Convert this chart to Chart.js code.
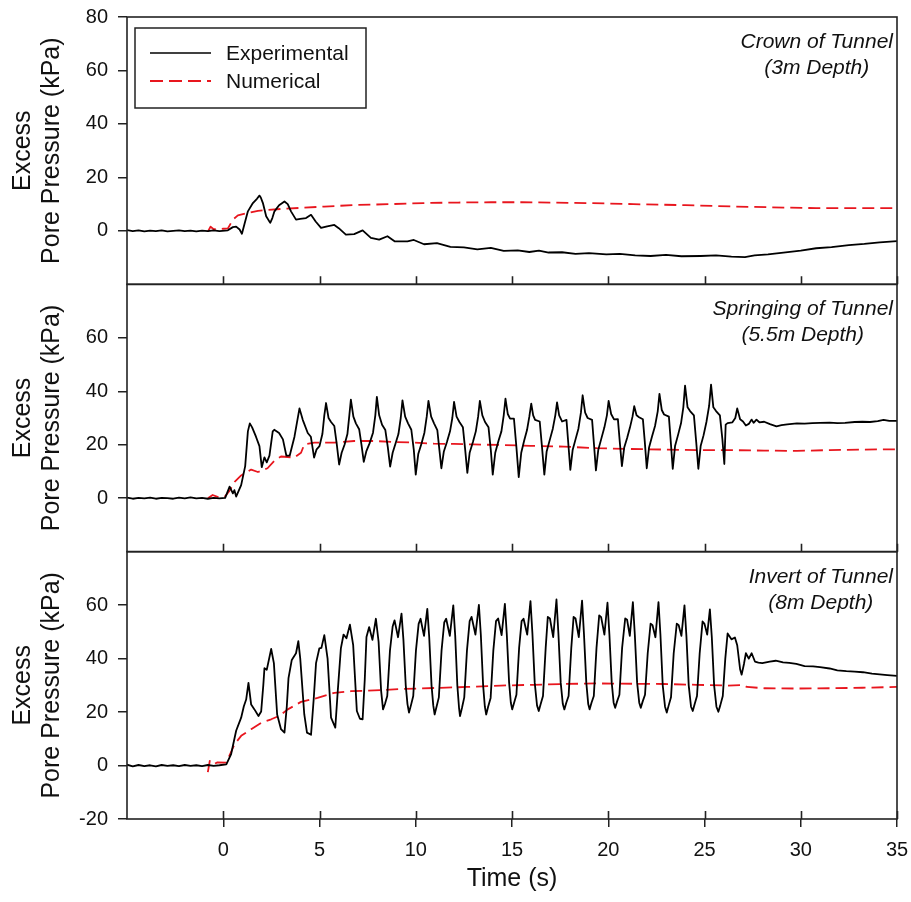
<!DOCTYPE html>
<html><head><meta charset="utf-8">
<script src="https://cdn.jsdelivr.net/npm/chart.js@4.4.1/dist/chart.umd.min.js"></script>
<style>html,body{margin:0;padding:0;background:#fff}#wrap{width:911px;height:902px;position:relative}canvas{display:block}</style>
</head><body><div id="wrap"><canvas id="c" width="911" height="902"></canvas></div>
<script>
// ---------- DATA (time s, excess pore pressure kPa) ----------
const xTickValues = [0, 5, 10, 15, 20, 25, 30, 35];
const panelNotes = [['Crown of Tunnel', '(3m Depth)'], ['Springing of Tunnel', '(5.5m Depth)'], ['Invert of Tunnel', '(8m Depth)']];
const seriesNames = ['Experimental', 'Numerical'];

const crownExperimental = [[-5,0.3],[-4.7,-0.1],[-4.4,0.2],[-4.1,-0.2],[-3.8,0.1],[-3.5,-0.1],[-3.2,0.2],[-2.9,-0.2],[-2.6,0.0],[-2.3,0.2],[-2.0,-0.1],[-1.7,0.1],[-1.4,-0.2],[-1.1,0.1],[-0.8,-0.1],[-0.5,0.2],[-0.2,-0.1],[0.1,0.1],[0.24,0.2],
[0.5,1.4],[0.67,1.6],[0.85,0.5],[0.97,-1.1],[1.1,2.5],[1.28,7.3],[1.54,10.4],[1.75,12.0],[1.88,13.2],[1.95,12.5],[2.06,10.4],[2.23,5.5],[2.44,3.0],[2.55,4.8],[2.66,7.3],[2.9,9.6],[3.18,11.0],[3.35,10.0],[3.52,7.3],[3.78,4.2],[4.0,4.5],[4.3,4.8],[4.56,6.0],[4.8,3.5],[5.08,1.1],[5.4,1.7],[5.77,2.2],[6.0,1.0],[6.37,-1.4],[6.8,-1.2],[7.24,0.2],[7.67,-2.6],[8.1,-3.3],[8.53,-2.0],[8.9,-3.9],[9.57,-3.9],[9.9,-3.4],[10.43,-5.0],[11.1,-4.6],[11.8,-6.0],[12.5,-6.2],[13.2,-6.9],[13.9,-6.4],[14.57,-7.5],[15.3,-7.3],[15.9,-7.9],[16.4,-7.4],[16.9,-8.1],[17.6,-8.0],[18.3,-8.6],[19.0,-8.3],[19.9,-8.8],[20.6,-8.6],[21.4,-9.2],[22.2,-9.4],[23.0,-9.0],[23.8,-9.5],[24.8,-9.4],[25.6,-9.2],[26.4,-9.6],[27.1,-9.8],[27.6,-9.2],[28.3,-8.8],[29.1,-8.1],[30.0,-7.4],[30.8,-6.5],[31.6,-6.1],[32.5,-5.3],[33.3,-4.9],[34.1,-4.3],[35,-3.8]];

const crownNumerical = [[-0.8,-0.3],[-0.66,1.6],[-0.5,0.6],[0.0,0.8],[0.24,0.9],[0.5,4.2],[0.76,5.8],[1.28,6.7],[1.8,7.5],[2.32,7.8],[3.18,8.3],[4.04,8.6],[5.25,9.1],[6.98,9.7],[8.7,10.0],[10.4,10.4],[12.2,10.6],[13.9,10.7],[15.5,10.7],[17.0,10.6],[19.0,10.4],[21.3,10.0],[24.0,9.6],[26.5,9.1],[28.5,8.8],[30.8,8.5],[33.0,8.5],[35,8.5]];

const springingExperimental = [[-5,0.2],[-4.7,-0.2],[-4.4,0.1],[-4.1,-0.1],[-3.8,0.2],[-3.5,-0.2],[-3.2,0.1],[-2.9,0],[-2.6,-0.2],[-2.3,0.2],[-2.0,-0.1],[-1.7,0.3],[-1.4,-0.1],[-1.1,0.1],[-0.8,-0.2],[-0.5,0.1],[-0.2,-0.1],[0.1,0.1],
[0.33,4.3],[0.5,1.8],[0.58,3],[0.67,0.6],[0.93,4.9],[1.14,12],[1.28,25],[1.38,28],[1.5,26.5],[1.7,23],[1.88,19.5],[2.0,11.6],[2.14,15.3],[2.26,13.4],[2.4,15.9],[2.57,25],[2.65,25.6],[2.9,24.4],[3.1,22],[3.28,15.9],[3.45,15.9],[3.7,23],[3.96,33.6],[4.13,29.3],[4.39,24.4],[4.55,23],[4.72,15.2],
[4.85,18.3],[5.0,19.5],[5.15,24],[5.25,31],[5.34,35.6],[5.47,30],[5.6,28.5],[5.77,27],[5.9,20],[6.02,12.6],
[6.15,17],[6.3,20],[6.45,24],[6.55,31],[6.63,36.9],[6.76,30.5],[6.89,28],[7.06,25.8],[7.18,20],[7.3,13.6],
[7.43,17.5],[7.6,20.5],[7.78,24.5],[7.9,31],[7.98,37.9],[8.1,31],[8.25,27.5],[8.42,25.5],[8.55,19],[8.67,11.8],
[8.8,17],[8.95,20.5],[9.1,24],[9.22,30],[9.31,36.6],[9.45,30.5],[9.6,28],[9.77,25.6],[9.9,18],[10.0,8.8],
[10.13,16.5],[10.3,20.5],[10.45,24.5],[10.57,30.5],[10.66,36.4],[10.8,30.5],[10.95,28],[11.12,25.5],[11.23,18],[11.33,11.2],
[11.46,17.5],[11.62,21],[11.78,25],[11.9,30],[11.99,36],[12.12,30.5],[12.27,28.5],[12.45,26.5],[12.57,18],[12.68,9.5],
[12.8,17],[12.97,21],[13.12,25],[13.24,30.5],[13.33,36.4],[13.46,31],[13.6,28.5],[13.78,26.5],[13.9,18],[14.0,8.8],
[14.13,17],[14.3,21.5],[14.45,25],[14.57,31],[14.66,37.2],[14.78,31.5],[14.9,29.8],[15.1,29.8],[15.23,19],[15.35,7.9],
[15.48,17],[15.63,21.5],[15.78,25.5],[15.9,30.5],[16.0,35.4],[16.1,31],[16.2,29.3],[16.44,28.7],[16.56,19],[16.68,8.8],
[16.8,17.5],[16.97,22],[17.12,26],[17.25,31],[17.34,35.8],[17.45,31],[17.6,28.7],[17.83,29.3],[17.93,20],[18.03,10.6],
[18.15,18],[18.3,22],[18.45,26],[18.58,32],[18.67,38.5],[18.8,32],[18.93,30],[19.16,29.3],[19.26,20],[19.36,10.4],
[19.48,18],[19.63,22],[19.8,26.5],[19.93,31],[20.02,36.4],[20.15,31.5],[20.3,29.5],[20.5,29.6],[20.6,21],[20.71,12],
[20.83,19],[20.98,22.5],[21.13,26.5],[21.26,30.5],[21.35,34.4],[21.47,31],[21.6,30.3],[21.8,29.5],[21.9,21],[22.0,11.2],
[22.12,19],[22.27,23],[22.43,27],[22.57,32.5],[22.66,39],[22.78,33],[22.9,31.3],[23.15,30.5],[23.25,21],[23.35,11],
[23.47,19.5],[23.62,23.5],[23.78,28],[23.9,34],[23.99,42.1],[24.12,34],[24.25,32.6],[24.45,31],[24.57,21],[24.68,11],
[24.8,19.5],[24.95,23.5],[25.1,28.5],[25.24,34.5],[25.34,42.5],[25.46,34],[25.6,32.6],[25.8,31],[25.93,22],[26.03,12.8],
[26.1,27.5],[26.2,28.1],[26.45,28.4],[26.6,30],[26.7,33.6],[26.85,29.5],[27.0,28.7],[27.15,27.2],[27.3,27.8],[27.45,29.4],[27.55,28.2],[27.7,29.4],[27.85,28.4],[28.1,28.6],[28.4,27.7],[28.74,26.9],[29.0,27.3],[29.3,27.6],[29.8,28],[30.2,27.9],[30.6,28.1],[31.0,28.2],[31.5,28.3],[31.9,28.1],[32.3,28.2],[32.8,28.5],[33.2,28.6],[33.6,28.5],[34.0,28.8],[34.3,29.3],[34.6,28.9],[35,28.9]];

const springingNumerical = [[-0.8,0],[-0.55,1.2],[-0.3,0.5],[0.07,0.5],[0.3,2.5],[0.59,6.1],[0.93,8.5],[1.45,10.7],[1.8,9.8],[2.3,11.2],[2.66,14],[3.0,15.6],[3.7,15.2],[4.04,17],[4.21,20.1],[4.73,20.8],[5.77,20.8],[6.8,21.4],[7.84,21.4],[8.88,21],[9.9,20.8],[10.95,20.4],[11.98,20.3],[13.0,20.1],[14.4,19.9],[15.96,19.6],[17.7,19.3],[19.4,18.7],[21.2,18.4],[22.9,18.2],[24.6,18.0],[26.3,18.0],[28.1,17.8],[29.8,17.7],[31.5,18.0],[33.2,18.2],[35,18.3]];

const invertExperimental = [[-5,0.3],[-4.7,-0.3],[-4.4,0.2],[-4.1,-0.2],[-3.8,0.1],[-3.5,-0.3],[-3.2,0.2],[-2.9,-0.1],[-2.6,0.1],[-2.3,-0.2],[-2.0,0.2],[-1.7,-0.1],[-1.4,0.1],[-1.1,-0.2],[-0.8,0.2],[-0.5,-0.1],[-0.2,0.1],[0.16,0.4],
[0.41,4.3],[0.67,13],[0.93,17.9],[1.07,22.2],[1.19,24.7],[1.31,30.9],[1.45,22.8],[1.62,21],[1.83,18.5],[1.97,20.2],[2.08,30],[2.14,36.4],[2.26,35.8],[2.49,43.6],[2.63,38.3],[2.8,19.1],[3.0,13.6],[3.18,12.3],[3.3,22],[3.39,32.7],[3.56,39.5],[3.78,42],[3.9,46.5],[4.0,40],[4.21,19.1],[4.35,12.3],[4.56,11.5],[4.7,25],[4.82,38.3],[4.99,43.8],[5.1,44],[5.25,48.8],[5.42,40],[5.6,17.9],[5.82,14.2],[5.95,28],[6.11,43.8],[6.25,49],[6.4,47.6],[6.58,52.7],[6.75,45],[6.94,20.4],[7.1,17.5],[7.24,17.3],[7.35,32],[7.44,48.1],[7.58,51.8],[7.75,47],[7.93,54.9],[8.07,46.3],[8.2,28],
[8.3,21],[8.4,23],[8.52,26],[8.66,43],[8.8,52],[8.9,54.3],[9.08,48],[9.26,56.8],[9.36,47],[9.48,30],[9.57,23],
[9.65,19.8],[9.75,22.5],[9.87,26],[10.01,43],[10.15,53],[10.25,54.9],[10.43,48.5],[10.6,58.6],[10.7,48],[10.82,30],[10.91,22.5],
[10.98,19.1],[11.08,22],[11.2,25.5],[11.34,43],[11.48,53.5],[11.58,54.9],[11.77,48.5],[11.95,59.9],[12.05,48.5],[12.16,30],[12.25,21.5],
[12.3,18.5],[12.4,21.5],[12.52,25.5],[12.66,43],[12.8,54],[12.9,55.6],[13.1,49],[13.28,60.1],[13.38,49],[13.5,30],[13.59,22],
[13.66,19.1],[13.76,22],[13.89,25.3],[14.03,43],[14.17,54],[14.28,55],[14.46,48.8],[14.63,60.5],[14.73,49],[14.85,31],[14.94,23.5],
[15.01,21],[15.11,23.5],[15.23,26.5],[15.37,44],[15.5,54],[15.6,54.9],[15.79,49],[15.96,61.5],[16.06,49.5],[16.18,31],[16.3,22.5],
[16.39,20.4],[16.49,23],[16.61,26],[16.75,44],[16.86,55.6],[16.97,55],[17.14,48],[17.31,62.1],[17.41,49.5],[17.53,31],[17.64,23],
[17.72,21],[17.82,23.5],[17.94,26],[18.08,44],[18.2,55.6],[18.3,55],[18.47,48],[18.64,61.7],[18.74,49],[18.86,31],[18.96,23],
[19.03,21],[19.13,23.5],[19.25,26],[19.39,44],[19.53,56.2],[19.63,55.5],[19.8,49],[19.96,60.9],[20.06,49],[20.18,31],[20.28,23.5],
[20.36,21.6],[20.46,24],[20.58,26.5],[20.72,44],[20.88,55],[20.98,54.5],[21.12,48.5],[21.28,61.1],[21.38,49],[21.5,31],[21.61,23.5],
[21.69,21.6],[21.79,24],[21.91,26.5],[22.05,42],[22.2,53.1],[22.3,52.5],[22.45,48],[22.61,61.1],[22.71,49],[22.83,30],[22.95,22],
[23.04,19.8],[23.14,22.5],[23.26,25.5],[23.4,42],[23.56,53.1],[23.66,52.5],[23.8,48.5],[23.96,59.9],[24.06,48.5],[24.18,30],[24.3,22],
[24.39,20.4],[24.49,23],[24.61,26],[24.75,42],[24.9,53.9],[25.0,53],[25.14,49],[25.28,58.4],[25.38,48],[25.5,30],[25.62,22],
[25.72,20.1],[25.82,22.5],[25.95,26],[26.08,40],[26.2,49.4],[26.4,47.2],[26.58,47.9],[26.7,45],[26.85,36],[26.93,34],[27.05,38],[27.15,42],[27.3,40],[27.45,42],[27.62,38.9],[27.8,38.5],
[28.0,38.3],[28.39,38.9],[28.7,39.2],[29.08,38.6],[29.4,38.4],[29.77,38],[30.2,37.2],[30.64,37.1],[31.0,36.8],[31.5,36.3],[31.9,35.6],[32.37,35.3],[32.8,35.1],[33.23,34.9],[33.7,34.4],[34.1,34.1],[34.5,33.8],[35,33.5]];

const invertNumerical = [[-0.8,-2.5],[-0.7,1.7],[-0.5,0.5],[-0.3,1.2],[0.16,1.1],[0.59,8],[0.93,11.1],[1.45,13.6],[1.97,16],[2.49,17.3],[2.92,18.6],[3.35,21],[4.04,23.8],[4.9,25.3],[5.77,27.2],[6.63,27.8],[7.5,28],[9.22,28.6],[10.95,29],[12.68,29.4],[14.4,29.9],[16.1,30.2],[17.7,30.5],[19.4,30.7],[21.2,30.6],[22.9,30.5],[24.6,30.2],[26.16,29.9],[27.0,30.1],[27.2,29.4],[28.1,28.9],[29.8,28.8],[31.5,28.9],[33.2,29.1],[35,29.4]];

// ---------- STYLE ----------
const FONT = "'Liberation Sans', Arial, Helvetica, sans-serif";
const INK = '#111';
const FRAME = '#222';
const RED = '#e8161e';
const DASH = [12, 6];

Chart.defaults.font.family = FONT;
Chart.defaults.color = INK;

const toPts = arr => arr.map(p => ({x: p[0], y: p[1]}));
function lineSet(label, data, yAxisID, dashed) {
  return {
    label, data: toPts(data), xAxisID: 'x', yAxisID,
    borderColor: dashed ? RED : '#000', borderWidth: 1.8,
    borderDash: dashed ? DASH : [], borderJoinStyle: 'round', pointRadius: 0, tension: 0, fill: false
  };
}

function yAxis(keepMin, keepMax, weight) {
  return {
    type: 'linear', position: 'left', stack: 'panels', stackWeight: 1, weight,
    min: -20, max: 80,
    border: {display: false},
    grid: {drawOnChartArea: false, drawTicks: true, tickLength: 9, color: FRAME, lineWidth: 1.5},
    ticks: {stepSize: 20, padding: 10, color: INK, font: {family: FONT, size: 20}},
    afterBuildTicks: s => { s.ticks = s.ticks.filter(t => t.value >= keepMin && t.value <= keepMax); },
    afterFit: s => { s.width = 127; s.paddingTop = 0; s.paddingBottom = 0; },
    title: {display: true, text: ['Excess', 'Pore Pressure (kPa)'], color: INK,
            font: {family: FONT, size: 25, lineHeight: 1.16}, padding: {top: 9, bottom: 0}}
  };
}

const panelDecor = {
  id: 'panelDecor',
  afterDatasetsDraw(chart) {
    const {ctx, chartArea, scales} = chart;
    const xs = scales.x;
    const ids = ['yTop', 'yMid', 'yBot'];
    ctx.save();
    ctx.strokeStyle = FRAME;
    ctx.lineWidth = 1.6;
    ids.forEach((id, i) => {
      const s = scales[id];
      ctx.strokeRect(chartArea.left, s.top, chartArea.right - chartArea.left, s.bottom - s.top);
      ctx.beginPath();
      xs.ticks.forEach(t => {
        const px = Math.round(xs.getPixelForValue(t.value)) + 0.5;
        ctx.moveTo(px, s.bottom);
        ctx.lineTo(px, s.bottom - 8);
      });
      ctx.stroke();
      // panel annotation
      const [l1, l2] = panelNotes[i];
      ctx.font = 'italic 21px ' + FONT;
      ctx.fillStyle = INK;
      ctx.textAlign = 'center';
      ctx.textBaseline = 'middle';
      const w1 = ctx.measureText(l1).width;
      const cx = chartArea.right - 4 - w1 / 2;
      ctx.fillText(l1, cx, s.top + 25);
      ctx.fillText(l2, cx, s.top + 51);
    });
    // legend
    const lx = chartArea.left + 8, ly = chartArea.top + 11;
    ctx.fillStyle = '#fff';
    ctx.fillRect(lx, ly, 231, 80);
    ctx.strokeStyle = FRAME;
    ctx.lineWidth = 1.5;
    ctx.strokeRect(lx, ly, 231, 80);
    const rows = [{y: ly + 25, color: '#000', dash: [], w: 1.6}, {y: ly + 53, color: RED, dash: [13, 6], w: 1.8}];
    rows.forEach((r, k) => {
      ctx.beginPath();
      ctx.setLineDash(r.dash);
      ctx.strokeStyle = r.color;
      ctx.lineWidth = r.w;
      ctx.moveTo(lx + 15, r.y);
      ctx.lineTo(lx + 76, r.y);
      ctx.stroke();
      ctx.setLineDash([]);
      ctx.font = '21px ' + FONT;
      ctx.fillStyle = INK;
      ctx.textAlign = 'left';
      ctx.textBaseline = 'middle';
      ctx.fillText(seriesNames[k], lx + 91, r.y + 1);
    });
    ctx.restore();
  }
};

new Chart(document.getElementById('c'), {
  type: 'line',
  data: {
    datasets: [
      lineSet(seriesNames[0], crownExperimental, 'yTop', false),
      lineSet(seriesNames[1], crownNumerical, 'yTop', true),
      lineSet(seriesNames[0], springingExperimental, 'yMid', false),
      lineSet(seriesNames[1], springingNumerical, 'yMid', true),
      lineSet(seriesNames[0], invertExperimental, 'yBot', false),
      lineSet(seriesNames[1], invertNumerical, 'yBot', true)
    ]
  },
  options: {
    responsive: false,
    animation: false,
    devicePixelRatio: 1,
    layout: {padding: {top: 17, right: 14, bottom: 0, left: 0}},
    plugins: {legend: {display: false}, tooltip: {enabled: false}},
    scales: {
      x: {
        type: 'linear', position: 'bottom', min: -5, max: 35,
        border: {display: false},
        grid: {drawOnChartArea: false, drawTicks: true, tickLength: 8, color: FRAME, lineWidth: 1.5},
        ticks: {stepSize: 5, padding: 11, maxRotation: 0, autoSkip: false, color: INK, font: {family: FONT, size: 20}},
        afterBuildTicks: s => { s.ticks = xTickValues.map(v => ({value: v})); },
        afterFit: s => { s.height = 83; s.paddingLeft = 0; s.paddingRight = 0; },
        title: {display: true, text: 'Time (s)', color: INK, font: {family: FONT, size: 25, lineHeight: 1.16}, padding: {top: 0, bottom: 8}}
      },
      yBot: yAxis(-20, 60, 1),
      yMid: yAxis(0, 60, 2),
      yTop: yAxis(0, 80, 3)
    }
  },
  plugins: [panelDecor]
});
</script></body></html>
